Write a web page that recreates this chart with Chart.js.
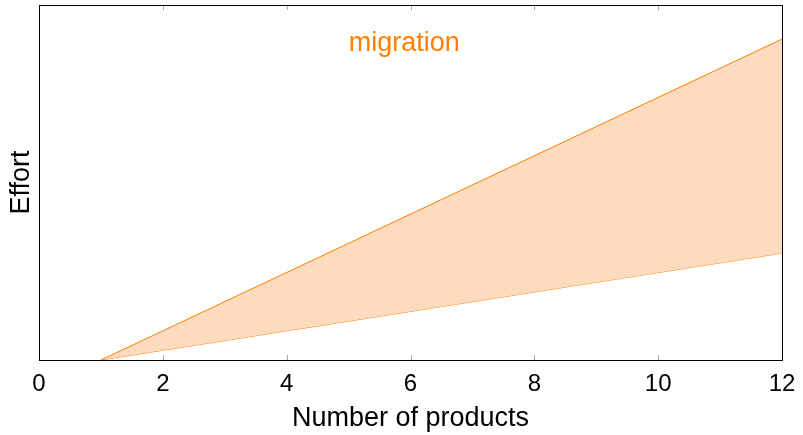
<!DOCTYPE html>
<html>
<head>
<meta charset="utf-8">
<script src="https://cdn.jsdelivr.net/npm/chart.js@4"></script>
<style>
  html, body { margin: 0; padding: 0; background: #fff; }
  #wrap { width: 803px; height: 435px; }
</style>
</head>
<body>
<div id="wrap"><canvas id="chart" width="803" height="435"></canvas></div>
<script>
const xTicks = [0, 2, 4, 6, 8, 10, 12];
const productsX = [1, 12];
const upperEffort = [0, 9.04];
const lowerEffort = [0, 3.01];
const labelText = "migration";
const labelAt = [5.9, 8.92];

const orange = "#ff7f00";
const fillOrange = "#fddbbf";
const font = "'Liberation Sans', Arial, sans-serif";

const toPoints = (xs, ys) => xs.map((x, i) => ({ x: x, y: ys[i] }));

// frame, inward ticks and the in-plot label
const framePlugin = {
    id: "frame",
    afterDatasetsDraw(chart) {
        const { ctx, chartArea: a, scales } = chart;
        ctx.save();
        ctx.strokeStyle = "#aaaaaa";
        ctx.lineWidth = 1;
        xTicks.forEach(t => {
            const px = Math.round(scales.x.getPixelForValue(t)) + 0.5;
            ctx.beginPath();
            ctx.moveTo(px, a.bottom);
            ctx.lineTo(px, a.bottom - 5);
            ctx.moveTo(px, a.top);
            ctx.lineTo(px, a.top + 5);
            ctx.stroke();
        });
        ctx.strokeStyle = "#000";
        ctx.strokeRect(Math.round(a.left) + 0.5, Math.round(a.top) + 0.5,
            Math.round(a.right - a.left), Math.round(a.bottom - a.top));
        ctx.fillStyle = orange;
        ctx.font = "27px " + font;
        ctx.textAlign = "center";
        ctx.textBaseline = "middle";
        ctx.fillText(labelText, scales.x.getPixelForValue(labelAt[0]), scales.y.getPixelForValue(labelAt[1]));
        ctx.restore();
    }
};

new Chart(document.getElementById("chart"), {
    type: "scatter",
    data: {
        datasets: [
            {
                data: toPoints(productsX, upperEffort),
                showLine: true,
                borderColor: orange,
                borderWidth: 1,
                pointRadius: 0,
                backgroundColor: fillOrange,
                fill: "+1"
            },
            {
                data: toPoints(productsX, lowerEffort),
                showLine: true,
                borderColor: orange,
                borderWidth: 1,
                pointRadius: 0,
                fill: false
            }
        ]
    },
    options: {
        responsive: false,
        animation: false,
        layout: { padding: { top: 5, right: 21, left: 0, bottom: 0 } },
        plugins: {
            legend: { display: false },
            tooltip: { enabled: false }
        },
        scales: {
            x: {
                type: "linear",
                min: 0,
                max: 12,
                afterBuildTicks: scale => { scale.ticks = xTicks.map(v => ({ value: v })); },
                grid: { display: false },
                border: { display: false },
                ticks: { color: "#000", font: { size: 24, family: font }, padding: 2 },
                title: {
                    display: true,
                    text: "Number of products",
                    color: "#000",
                    font: { size: 27, family: font, lineHeight: 1.0 },
                    padding: { top: 0, bottom: 3 }
                },
                afterFit: scale => { scale.height = 75; }
            },
            y: {
                min: 0,
                max: 10,
                grid: { display: false },
                border: { display: false },
                ticks: { display: false },
                title: {
                    display: true,
                    text: "Effort",
                    color: "#000",
                    font: { size: 27, family: font },
                    padding: { top: 5, bottom: 0 }
                },
                afterFit: scale => { scale.width = 39; }
            }
        }
    },
    plugins: [framePlugin]
});
</script>
</body>
</html>
